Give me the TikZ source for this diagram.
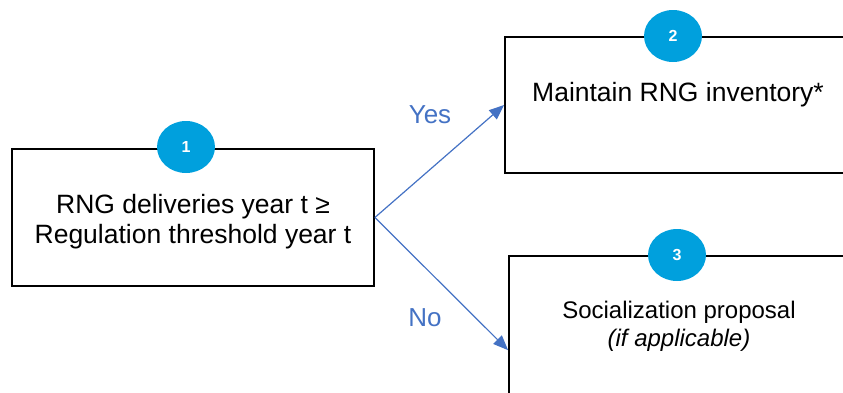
\documentclass[tikz,border=0pt]{standalone}
\usepackage{fontspec}
\setmainfont{Liberation Sans}
\usetikzlibrary{arrows.meta,positioning,calc,shapes.geometric}
\definecolor{badgeblue}{RGB}{0,160,221}
\definecolor{arrowblue}{RGB}{68,114,196}

\begin{document}
\begin{tikzpicture}[
  x=1pt, y=-1pt,
  box/.style={draw, line width=1.8pt, inner sep=0pt},
  boxtext/.style={align=center, inner sep=0pt, font=\fontsize{26.5}{30}\selectfont},
  badge/.style={ellipse, fill=badgeblue, text=white, inner sep=0pt,
    minimum width=58pt, minimum height=52pt,
    font=\bfseries\fontsize{16}{16}\selectfont},
  yesno/.style={text=arrowblue, font=\fontsize{26}{30}\selectfont},
  link/.style={arrowblue, line width=1.2pt, -{Triangle[length=15pt,width=12pt]}}
]
\useasboundingbox (0,0) rectangle (843,392);
\clip (0,0) rectangle (843,392);
\node[box, minimum width=362pt, minimum height=137pt] (b1) at (193,217.5) {};
\node[box, minimum width=346pt, minimum height=136pt] (b2) at (678,105) {};
\node[box, minimum width=340pt, minimum height=160pt] (b3) at (679,336) {};
\node[boxtext] (t1) at (193,222) {RNG deliveries year t ≥\\Regulation threshold year t};
\node[boxtext] (t2) at (678,95) {Maintain RNG inventory*};
\node[boxtext, font=\fontsize{24}{28}\selectfont] (t3) at (679,326)
  {Socialization proposal\\\textit{(if applicable)}};
\node[badge] (n1) at (186,147) {1};
\node[badge] (n2) at (673,36) {2};
\node[badge] (n3) at (677,255) {3};
\node[yesno] (yes) at (430,115) {Yes};
\node[yesno] (no) at (425,318) {No};
\draw[link] (b1.east) -- (b2.west);
\draw[link] (b1.east) -- ($(b3.north west)!0.5875!(b3.south west)$);
\end{tikzpicture}
\end{document}
